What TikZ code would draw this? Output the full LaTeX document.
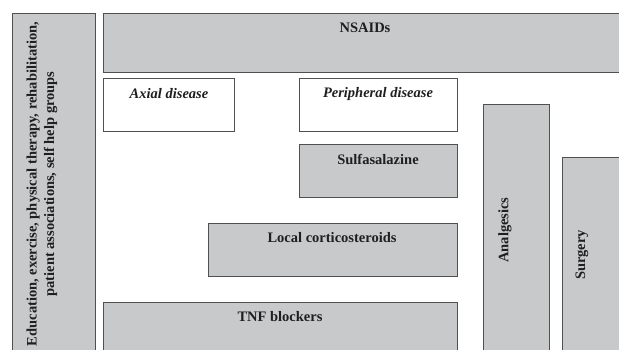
\documentclass[tikz,border=0pt]{standalone}
\usepackage{fontspec}
\setmainfont{Liberation Serif}
\definecolor{boxfill}{RGB}{200,201,203}
\definecolor{boxline}{RGB}{80,80,80}
\tikzset{
  graybox/.style={draw=boxline, fill=boxfill, line width=0.9pt},
  whitebox/.style={draw=boxline, fill=white, line width=0.9pt},
  lbl/.style={font=\fontsize{14.5}{17.5}\selectfont\bfseries, inner sep=0pt, text=black!88},
  ilbl/.style={lbl, font=\fontsize{14.5}{17.5}\selectfont\bfseries\itshape},
}
\begin{document}
\begin{tikzpicture}[x=1pt,y=-1pt]
\useasboundingbox (0,0) rectangle (619,349);
\clip (0,0) rectangle (619,349);
% boxes
\path[graybox] (12,13) rectangle (95,360);
\path[graybox] (103,13) rectangle (630,72);
\path[whitebox] (103,78) rectangle (234,131);
\path[whitebox] (299,78) rectangle (457,131);
\path[graybox] (483,104) rectangle (549,360);
\path[graybox] (562,157) rectangle (630,360);
\path[graybox] (299,144) rectangle (457,197);
\path[graybox] (208,223) rectangle (457,276);
\path[graybox] (103,302) rectangle (457,360);
% labels
\node[lbl, rotate=90, align=center] (edu) at (42,184) {Education, exercise, physical therapy, rehabilitation,\\patient associations, self help groups};
\node[lbl] (nsaid) at (365,28) {NSAIDs};
\node[ilbl] (axial) at (169,94) {Axial disease};
\node[ilbl] (periph) at (378,94) {Peripheral disease};
\node[lbl] (sulfa) at (378,159) {Sulfasalazine};
\node[lbl] (local) at (332,238) {Local corticosteroids};
\node[lbl] (tnf) at (280,317) {TNF blockers};
\node[lbl, rotate=90] (analg) at (505,230) {Analgesics};
\node[lbl, rotate=90] (surg) at (582,255) {Surgery};
\end{tikzpicture}
\end{document}
